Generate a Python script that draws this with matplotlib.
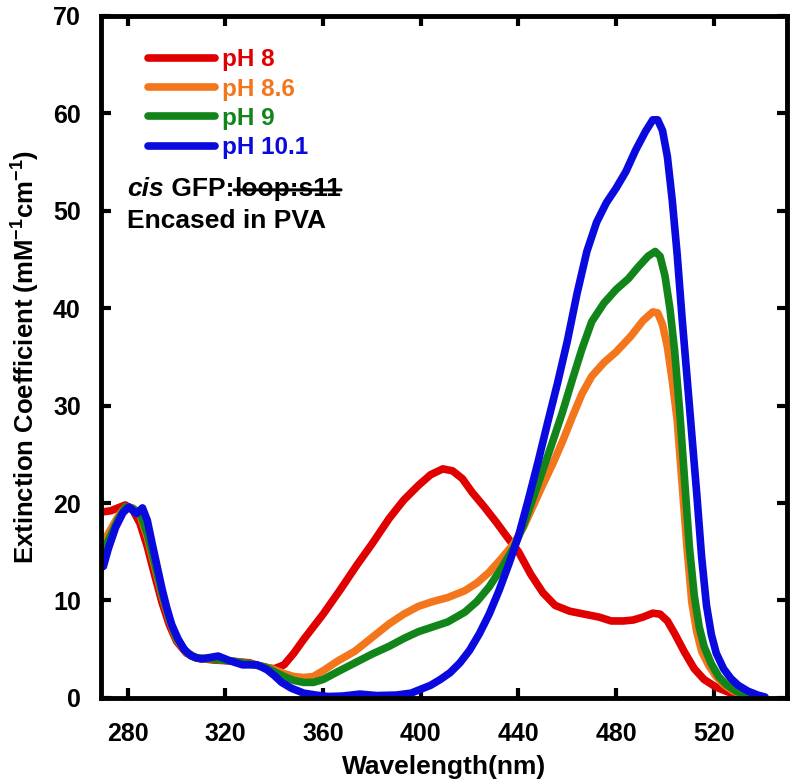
import numpy as np
import matplotlib
matplotlib.use("Agg")
import matplotlib.pyplot as plt

plt.rcParams["font.family"] = ["Liberation Sans", "DejaVu Sans"]
plt.rcParams["font.weight"] = "bold"
plt.rcParams["mathtext.fontset"] = "custom"
plt.rcParams["mathtext.rm"] = "Liberation Sans:bold"
plt.rcParams["mathtext.bf"] = "Liberation Sans:bold"
plt.rcParams["mathtext.default"] = "bf"

# absorbance spectra (wavelength nm, extinction mM^-1 cm^-1)
wl_ph8 = [270, 273, 276, 279, 282, 285, 288, 291, 294, 297, 300, 304, 308, 315, 322,
          330, 335, 340, 344, 348, 352, 360, 367, 374, 380, 387, 393, 399, 404, 409,
          413, 417, 421, 426, 431, 436, 440, 445, 450, 455, 461, 467, 473, 478, 483,
          487, 491, 495, 498, 501, 504, 508, 512, 516, 521, 526, 531, 536, 540]
ext_ph8 = [19.1, 19.2, 19.5, 19.8, 19.3, 17.9, 15.5, 12.6, 9.8, 7.5, 5.8, 4.6, 4.1, 3.9, 3.8,
           3.6, 3.2, 3.0, 3.4, 4.6, 6.0, 8.6, 11.1, 13.7, 15.8, 18.4, 20.3, 21.8, 22.9, 23.5,
           23.3, 22.5, 21.1, 19.6, 18.0, 16.3, 15.0, 12.7, 10.8, 9.5, 8.9, 8.6, 8.3, 7.9, 7.9,
           8.0, 8.3, 8.7, 8.6, 7.9, 6.6, 4.7, 3.0, 1.9, 1.1, 0.6, 0.3, 0.1, 0.05]

wl_ph86 = [270, 273, 276, 279, 282, 285, 288, 291, 294, 297, 300, 304, 308, 315, 322,
           330, 336, 340, 344, 348, 352, 356, 360, 366, 373, 380, 387, 393, 399, 405,
           411, 418, 423, 428, 433, 438, 442, 446, 450, 454, 458, 462, 466, 470, 475,
           480, 486, 491, 495, 497, 499, 501, 503, 505, 507, 509, 511, 513, 515, 518,
           521, 524, 528, 533, 538]
ext_ph86 = [16.0, 17.3, 18.6, 19.6, 19.5, 18.8, 16.5, 13.5, 10.5, 8.0, 6.0, 4.7, 4.1, 4.0, 3.8,
            3.5, 3.2, 2.9, 2.5, 2.2, 2.1, 2.2, 2.8, 3.8, 4.8, 6.2, 7.6, 8.6, 9.4, 9.9,
            10.3, 11.0, 11.8, 12.9, 14.3, 15.8, 17.5, 19.7, 21.9, 24.0, 26.3, 28.8, 31.2, 33.0, 34.4,
            35.5, 37.1, 38.7, 39.6, 39.5, 38.3, 36.0, 32.5, 28.5, 22.0, 15.5, 9.8, 6.8, 4.8, 3.3,
            2.2, 1.4, 0.7, 0.25, 0.05]

wl_ph9 = [270, 273, 276, 279, 282, 285, 288, 291, 294, 297, 300, 304, 308, 315, 322,
          330, 336, 340, 344, 348, 352, 356, 360, 366, 373, 380, 387, 393, 399, 405,
          411, 418, 423, 428, 433, 438, 442, 446, 450, 454, 458, 462, 466, 470, 475,
          480, 485, 489, 493, 496, 498, 500, 502, 504, 506, 508, 510, 512, 514, 516,
          519, 522, 525, 529, 534, 539]
ext_ph9 = [15.0, 16.7, 18.3, 19.6, 19.4, 19.0, 16.8, 13.8, 10.7, 8.1, 6.1, 4.7, 4.1, 4.0, 3.8,
           3.5, 3.2, 2.7, 2.2, 1.8, 1.6, 1.6, 1.9, 2.7, 3.6, 4.5, 5.3, 6.1, 6.8, 7.3,
           7.8, 8.8, 9.9, 11.4, 13.3, 15.4, 17.7, 20.5, 23.4, 26.3, 29.3, 32.6, 35.8, 38.6, 40.5,
           41.9, 43.0, 44.2, 45.3, 45.8, 45.3, 43.3, 40.0, 35.5, 29.5, 22.5, 15.5, 10.5, 7.3, 5.3,
           3.5, 2.2, 1.4, 0.7, 0.25, 0.05]

wl_ph101 = [270, 272, 275, 278, 280.5, 283.5, 286, 288, 290, 292, 294, 296, 298, 300.5, 303,
            306, 310, 317, 322, 327, 333, 337, 340, 343, 347, 352, 357, 362, 368, 375,
            382, 390, 396, 400, 404, 408, 412, 416, 420, 424, 428, 432, 436, 440, 444,
            448, 452, 456, 460, 464, 468, 472, 476, 480, 484, 488, 492, 495, 497, 499,
            501, 503, 505, 507, 509, 511, 513, 515, 517, 519, 521, 524, 527, 530, 534,
            538, 541]
ext_ph101 = [13.5, 15.3, 17.5, 19.0, 19.6, 18.9, 19.5, 18.2, 15.8, 13.5, 11.2, 9.2, 7.5, 6.1, 5.0,
             4.3, 4.0, 4.3, 3.8, 3.4, 3.4, 2.9, 2.3, 1.6, 1.0, 0.5, 0.3, 0.15, 0.2, 0.4,
             0.25, 0.3, 0.5, 0.9, 1.3, 1.9, 2.6, 3.6, 4.9, 6.6, 8.6, 11.0, 13.7, 16.6, 20.3,
             24.2, 28.3, 32.3, 36.6, 41.5, 45.8, 48.8, 50.8, 52.3, 54.0, 56.2, 58.1, 59.3, 59.3, 58.2,
             55.5, 51.0, 45.5, 39.0, 33.0, 27.0, 21.0, 14.5, 9.5, 6.5, 4.6, 3.0, 2.0, 1.3, 0.7,
             0.3, 0.1]

labels = ["pH 8", "pH 8.6", "pH 9", "pH 10.1"]
colors = ["#e10000", "#f4761c", "#12851a", "#0a0adf"]
x_ticks = [280, 320, 360, 400, 440, 480, 520]
y_ticks = [0, 10, 20, 30, 40, 50, 60, 70]

fig = plt.figure(figsize=(7.95, 7.84), dpi=100)
ax = fig.add_axes([0.127, 0.1097, 0.863, 0.8705])

series = [(wl_ph8, ext_ph8), (wl_ph86, ext_ph86), (wl_ph9, ext_ph9), (wl_ph101, ext_ph101)]
for (wl, ext), lab, col in zip(series, labels, colors):
    ax.plot(wl, ext, color=col, lw=5.5, label=lab,
            solid_joinstyle="round", solid_capstyle="round")

ax.set_xlim(269, 550)
ax.set_ylim(0, 70)
ax.set_xticks(x_ticks)
ax.set_yticks(y_ticks)
ax.tick_params(direction="in", length=7, width=3, labelsize=18,
               top=True, right=True)
ax.tick_params(axis="x", pad=17)
ax.tick_params(axis="y", pad=14.5)
for s in ax.spines.values():
    s.set_linewidth(3.5)

ax.set_xlabel("Wavelength(nm)", fontsize=19, fontweight="bold", labelpad=7)
ax.set_ylabel("Extinction Coefficient (mM$^{-1}$cm$^{-1}$)", fontsize=18.5,
              fontweight="bold", labelpad=8)

leg = ax.legend(loc="upper left", bbox_to_anchor=(0.0685, 0.952), frameon=False,
                fontsize=17.5, handlelength=2.75, handletextpad=0.3,
                labelspacing=0.26, borderpad=0, borderaxespad=0,
                labelcolor="linecolor")
for h in leg.get_lines():
    h.set_linewidth(5.5)

# sample annotation with strikethrough on "loop:s11"
t_cis = ax.text(0.038, 0.736, "cis", transform=ax.transAxes, fontsize=19,
                fontweight="bold", style="italic", va="baseline")
t_gfp = ax.annotate(" GFP:", xy=(1, 0), xycoords=t_cis, va="bottom", ha="left",
                    fontsize=19, fontweight="bold")
t_loop = ax.annotate("loop:s11", xy=(1, 0), xycoords=t_gfp, va="bottom", ha="left",
                     fontsize=19, fontweight="bold")
ax.annotate("", xy=(1, 0.45), xycoords=t_loop, xytext=(0, 0.45), textcoords=t_loop,
            arrowprops=dict(arrowstyle="-", lw=2.2, color="black", shrinkA=0, shrinkB=0))
ax.text(0.038, 0.689, "Encased in PVA", transform=ax.transAxes, fontsize=19,
        fontweight="bold", va="baseline")

fig.savefig("out.png", dpi=100)
